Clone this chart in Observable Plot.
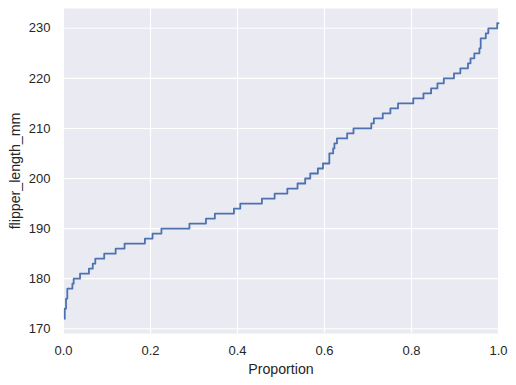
<!DOCTYPE html>
<html>
<head>
<meta charset="utf-8">
<script src="https://cdn.jsdelivr.net/npm/d3@7"></script>
<script src="https://cdn.jsdelivr.net/npm/@observablehq/plot@0.6"></script>
<style>
  html, body { margin: 0; padding: 0; background: #ffffff; }
  #chart { width: 516px; height: 385px; }
</style>
</head>
<body>
<div id="chart"></div>
<script>
// Unique flipper lengths (mm) and how many penguins have each (read from the step heights)
const flipperValues = [172,174,176,178,179,180,181,182,183,184,185,186,187,188,189,190,191,192,193,194,195,196,197,198,199,200,201,202,203,205,206,207,208,209,210,211,212,213,214,215,216,217,218,219,220,221,222,223,224,225,226,228,229,230,231];
const flipperCounts = [1,1,1,4,1,5,7,3,2,7,9,7,16,6,7,22,13,7,15,5,17,10,10,8,6,4,6,4,5,3,1,2,8,5,14,2,7,6,6,12,8,6,5,5,8,5,6,2,3,4,1,4,2,7,1];
const xTicks = [0, 0.2, 0.4, 0.6, 0.8, 1.0];
const yTicks = [170, 180, 190, 200, 210, 220, 230];

const total = d3.sum(flipperCounts);
let cum = 0;
const ecdf = flipperValues.map((v, i) => {
  cum += flipperCounts[i];
  return {proportion: cum / total, flipper_length_mm: v};
});

const textColor = "#262626";
const chart = Plot.plot({
  width: 516,
  height: 385,
  marginLeft: 63,
  marginRight: 18,
  marginTop: 8,
  marginBottom: 52,
  style: {fontFamily: "'Liberation Sans', Arial, sans-serif", fontSize: "13px", color: textColor, background: "#ffffff"},
  x: {domain: [0, 1]},
  y: {domain: [169.05, 233.95]},
  marks: [
    Plot.frame({fill: "#EAEAF2", stroke: null}),
    Plot.gridX(xTicks, {stroke: "#ffffff", strokeOpacity: 1, strokeWidth: 1.1}),
    Plot.gridY(yTicks, {stroke: "#ffffff", strokeOpacity: 1, strokeWidth: 1.1}),
    Plot.axisX(xTicks, {tickSize: 0, tickPadding: 12, tickFormat: d3.format(".1f"), label: null, fontSize: 13, fill: textColor}),
    Plot.axisY(yTicks, {tickSize: 0, tickPadding: 13, label: null, fontSize: 13, fill: textColor}),
    Plot.line(ecdf, {x: "proportion", y: "flipper_length_mm", curve: "step-before", stroke: "#4C72B0", strokeWidth: 1.8}),
    Plot.text(["flipper_length_mm"], {frameAnchor: "left", dx: -48, rotate: -90, text: d => d, fontSize: 14.2, fill: textColor, lineAnchor: "middle", textAnchor: "middle"}),
    Plot.text(["Proportion"], {frameAnchor: "bottom", dy: 36, text: d => d, fontSize: 14.2, fill: textColor, lineAnchor: "middle", textAnchor: "middle"})
  ]
});
document.getElementById("chart").appendChild(chart);
</script>
</body>
</html>
